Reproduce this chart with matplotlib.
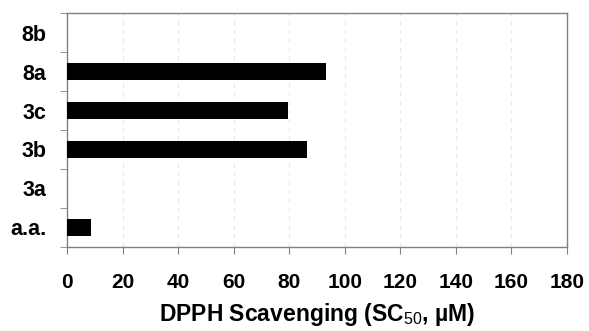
import matplotlib

matplotlib.use("Agg")
import matplotlib.pyplot as plt
import numpy as np

compounds = ["a.a.", "3a", "3b", "3c", "8a", "8b"]
sc50 = [8.6, 0, 86.5, 79.7, 93.4, 0]
x_ticks = [0, 20, 40, 60, 80, 100, 120, 140, 160, 180]

plt.rcParams["font.family"] = ["Liberation Sans", "DejaVu Sans"]
plt.rcParams["mathtext.fontset"] = "custom"
plt.rcParams["mathtext.rm"] = "Liberation Sans"
plt.rcParams["mathtext.bf"] = "Liberation Sans:bold"

fig = plt.figure(figsize=(5.89, 3.31), dpi=100)
ax = fig.add_axes([0.1138, 0.2538, 0.8488, 0.7069])

pos = np.arange(len(compounds))
ax.barh(pos, sc50, height=0.45, color="black", zorder=3)

ax.set_xlim(0, 180)
ax.set_ylim(-0.5, len(compounds) - 0.5)

ax.set_xticks(x_ticks)
ax.set_xticklabels([str(t) for t in x_ticks], fontsize=15, fontweight="bold")
ax.tick_params(axis="x", direction="out", length=5, color="#808080", pad=14)

ax.set_yticks(pos)
ax.set_yticklabels(compounds, fontsize=15.5, fontweight="bold")
ax.tick_params(axis="y", which="major", length=0, pad=15)
ax.set_yticks(np.arange(len(compounds) + 1) - 0.5, minor=True)
ax.tick_params(axis="y", which="minor", direction="out", length=5, color="#808080")

for t in x_ticks[1:-1]:
    ax.axvline(t, color="#e8e8e8", lw=0.8, ls=(0, (4, 4)), zorder=1)

for s in ax.spines.values():
    s.set_color("#808080")
    s.set_linewidth(1.0)

ax.set_xlabel(r"DPPH Scavenging (SC$_{\rm 50}$, µM)", fontsize=16.5, fontweight="bold", labelpad=6)

fig.savefig("out.png", dpi=100)
